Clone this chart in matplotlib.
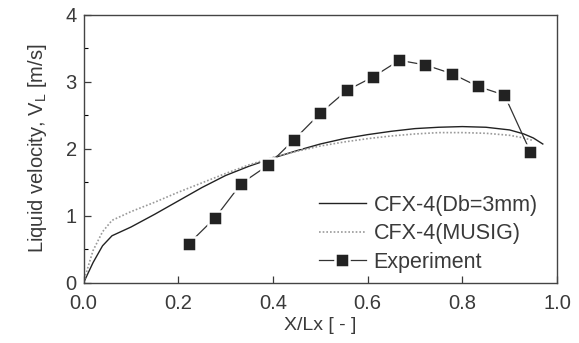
import matplotlib

matplotlib.use("Agg")
import matplotlib.pyplot as plt
from matplotlib.ticker import MultipleLocator

plt.rcParams["font.family"] = ["Liberation Sans", "DejaVu Sans"]

exp_x = [0.222, 0.278, 0.333, 0.389, 0.444, 0.500, 0.556, 0.611, 0.667,
         0.722, 0.778, 0.833, 0.889, 0.944]
exp_v = [0.58, 0.97, 1.48, 1.75, 2.13, 2.53, 2.87, 3.07, 3.32,
         3.25, 3.12, 2.93, 2.80, 1.95]

db3_x = [0.0, 0.01, 0.02, 0.04, 0.06, 0.10, 0.15, 0.20, 0.25, 0.30, 0.35,
         0.40, 0.45, 0.50, 0.55, 0.60, 0.65, 0.70, 0.75, 0.80, 0.85, 0.90,
         0.93, 0.95, 0.97]
db3_v = [0.0, 0.15, 0.30, 0.55, 0.70, 0.83, 1.02, 1.22, 1.42, 1.60, 1.74,
         1.86, 1.97, 2.07, 2.15, 2.21, 2.26, 2.30, 2.32, 2.33, 2.32, 2.28,
         2.22, 2.16, 2.07]

musig_x = [0.0, 0.01, 0.02, 0.04, 0.06, 0.10, 0.15, 0.20, 0.25, 0.30, 0.35,
           0.40, 0.45, 0.50, 0.55, 0.60, 0.65, 0.70, 0.75, 0.80, 0.85, 0.90,
           0.93, 0.95]
musig_v = [0.0, 0.25, 0.48, 0.76, 0.93, 1.06, 1.20, 1.35, 1.49, 1.63, 1.76,
           1.87, 1.96, 2.04, 2.10, 2.15, 2.19, 2.22, 2.24, 2.24, 2.23, 2.20,
           2.16, 2.12]

text_color = "#3a3a3a"

fig = plt.figure(figsize=(5.79, 3.43), dpi=100)
ax = fig.add_axes([0.1444, 0.176, 0.8176, 0.781])

ax.plot(db3_x, db3_v, color="#222222", lw=1.0, label="CFX-4(Db=3mm)")
ax.plot(musig_x, musig_v, color="#999999", lw=1.2, ls=(0, (1, 1.2)),
        label="CFX-4(MUSIG)")
ax.plot(exp_x, exp_v, color="#333333", lw=0.9, marker="s",
        ms=9.5, mfc="#222222", mec="white", mew=1.8, label="Experiment")

ax.set_xlim(0, 1.0)
ax.set_ylim(0, 4)
ax.xaxis.set_major_locator(MultipleLocator(0.2))
ax.yaxis.set_major_locator(MultipleLocator(1))
ax.yaxis.set_minor_locator(MultipleLocator(0.5))
ax.set_xticklabels([f"{v:.1f}" for v in ax.get_xticks()])
ax.tick_params(direction="in", labelsize=14.5, colors=text_color,
               length=5, width=0.9, pad=5)
ax.tick_params(axis="x", pad=8)
ax.tick_params(which="minor", direction="in", length=3, width=0.8)
ax.set_xlabel("X/Lx [ - ]", fontsize=14, color=text_color, labelpad=3)
ax.set_ylabel("Liquid velocity, V$_\\mathregular{L}$ [m/s]", fontsize=14.5,
              color=text_color, labelpad=12)
for spine in ax.spines.values():
    spine.set_color("#444444")
    spine.set_linewidth(1.0)

leg = ax.legend(loc="lower right", frameon=False, fontsize=15.5,
                handlelength=2.2, handletextpad=0.35, labelspacing=0.35,
                bbox_to_anchor=(1.0, -0.035))
for t in leg.get_texts():
    t.set_color(text_color)

fig.savefig("out.png", dpi=100)
